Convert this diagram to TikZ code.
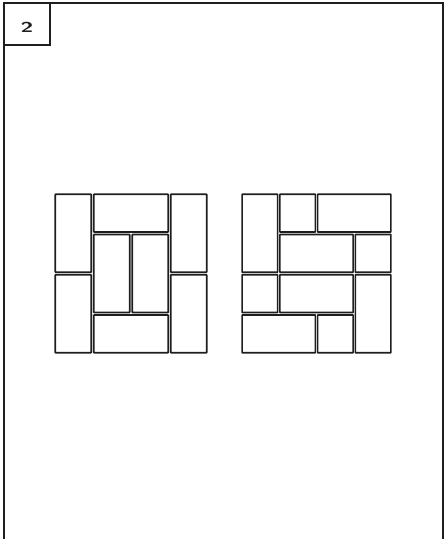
\documentclass[tikz,border=0pt]{standalone}
\usepackage{tikz}
\definecolor{InkGray}{RGB}{30, 30, 30}
\tikzset{
  frame/.style={draw=InkGray, line width=1.3pt},
  tile/.style={draw=InkGray, line width=1.7pt, rounded corners=0.6pt},
  numlabel/.style={font=\sffamily\bfseries\Large, text=InkGray, xscale=1.6},
}

\begin{document}
\begin{tikzpicture}[x=1pt, y=1pt]
  \useasboundingbox (0,0) rectangle (445,-539);
  % page frame, open at the bottom
  \coordinate (fbl) at (4,-539);
  \coordinate (ftl) at (4,-3);
  \coordinate (ftr) at (443,-3);
  \coordinate (fbr) at (443,-539);
  \draw[frame] (fbl) -- (ftl) -- (ftr) -- (fbr);
  % number box
  \coordinate (lbr) at (50,-45);
  \draw[frame] (ftl) rectangle (lbr);
  \node[numlabel] (num) at (27,-27) {2};
  % left square: 4x4 cells
  \begin{scope}[shift={(54,-193)}, x=38.5pt, y=-40.25pt]
    \foreach \a/\b/\c/\d in {0/0/1/2, 0/2/1/4, 1/0/3/1, 1/1/2/3,
                             2/1/3/3, 1/3/3/4, 3/0/4/2, 3/2/4/4}
      \draw[tile] (\a+0.03,\b+0.03) rectangle (\c-0.03,\d-0.03);
  \end{scope}
  % right square: 4x4 cells
  \begin{scope}[shift={(241,-193)}, x=37.75pt, y=-40.25pt]
    \foreach \a/\b/\c/\d in {0/0/1/2, 1/0/2/1, 2/0/4/1, 1/1/3/2,
                             3/1/4/2, 0/2/1/3, 1/2/3/3, 3/2/4/4,
                             0/3/2/4, 2/3/3/4}
      \draw[tile] (\a+0.03,\b+0.03) rectangle (\c-0.03,\d-0.03);
  \end{scope}
\end{tikzpicture}
\end{document}
